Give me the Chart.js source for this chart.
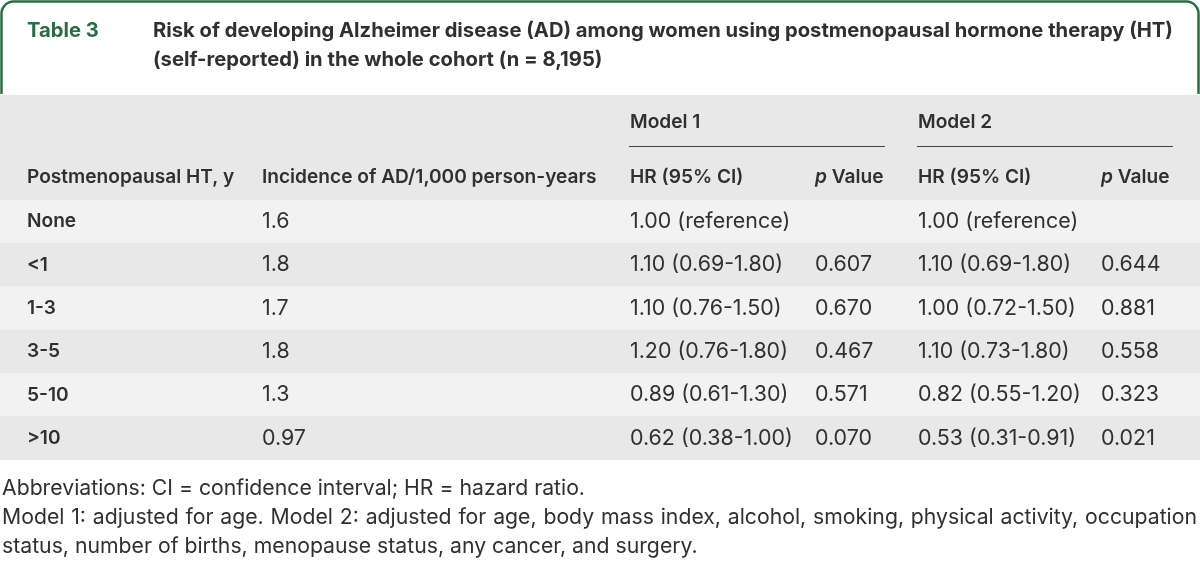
<!DOCTYPE html>
<html>
<head>
<meta charset="utf-8">
<script src="https://cdn.jsdelivr.net/npm/chart.js@4/dist/chart.umd.min.js"></script>
<style>
  html, body { margin: 0; padding: 0; background: #ffffff; }
  #wrap { width: 1200px; height: 562px; }
</style>
</head>
<body>
<div id="wrap"><canvas id="c" width="1200" height="562"></canvas></div>
<script>
// ---------- data ----------
const tableLabel = "Table 3";
const titleLines = [
  "Risk of developing Alzheimer disease (AD) among women using postmenopausal hormone therapy (HT)",
  "(self-reported) in the whole cohort (n = 8,195)"
];
const groupHeaders = ["Model 1", "Model 2"];
const columnHeaders = ["Postmenopausal HT, y", "Incidence of AD/1,000 person-years", "HR (95% CI)", "p Value", "HR (95% CI)", "p Value"];
const hrtYears = ["None", "<1", "1-3", "3-5", "5-10", ">10"];
const incidence = ["1.6", "1.8", "1.7", "1.8", "1.3", "0.97"];
const model1HR = ["1.00 (reference)", "1.10 (0.69-1.80)", "1.10 (0.76-1.50)", "1.20 (0.76-1.80)", "0.89 (0.61-1.30)", "0.62 (0.38-1.00)"];
const model1P = ["", "0.607", "0.670", "0.467", "0.571", "0.070"];
const model2HR = ["1.00 (reference)", "1.10 (0.69-1.80)", "1.00 (0.72-1.50)", "1.10 (0.73-1.80)", "0.82 (0.55-1.20)", "0.53 (0.31-0.91)"];
const model2P = ["", "0.644", "0.881", "0.558", "0.323", "0.021"];
const footnotes = [
  "Abbreviations: CI = confidence interval; HR = hazard ratio.",
  "Model 1: adjusted for age. Model 2: adjusted for age, body mass index, alcohol, smoking, physical activity, occupation",
  "status, number of births, menopause status, any cancer, and surgery."
];

// ---------- layout / style ----------
const FAMILY = "Inter, 'Liberation Sans', Arial, sans-serif";
const colX = [27, 262, 630, 815, 918, 1101];
const TEXT = "#303030";
const GREEN = "#2d6b47";
const BAND = "#e7e8e7";
const LIGHT = "#f2f2f2";

function fitFont(ctx, weight, text, target) {
  ctx.font = weight + " 20px " + FAMILY;
  const w = ctx.measureText(text).width;
  const size = 20 * target / w;
  return weight + " " + size.toFixed(2) + "px " + FAMILY;
}

let F = null;
function fonts(ctx) {
  if (F) return F;
  F = {
    title: fitFont(ctx, "bold", titleLines[0], 1020),
    head: fitFont(ctx, "600", columnHeaders[1], 335),
    headItalic: null,
    body: fitFont(ctx, "normal", model1HR[1], 153),
    note: fitFont(ctx, "normal", footnotes[0], 583)
  };
  F.headItalic = "italic " + F.head;
  return F;
}

const tablePlugin = {
  id: "tablePlugin",
  beforeDraw(chart) {
    const ctx = chart.ctx;
    const f = fonts(ctx);
    ctx.save();
    ctx.fillStyle = "#ffffff";
    ctx.fillRect(0, 0, chart.width, chart.height);
    // header box border
    ctx.strokeStyle = GREEN;
    ctx.lineWidth = 2.5;
    ctx.beginPath();
    ctx.moveTo(1.5, 94);
    ctx.lineTo(1.5, 13);
    ctx.arcTo(1.5, 1.5, 13, 1.5, 12);
    ctx.lineTo(1186, 1.5);
    ctx.arcTo(1198.5, 1.5, 1198.5, 13, 12);
    ctx.lineTo(1198.5, 94);
    ctx.stroke();
    // title
    ctx.textBaseline = "middle";
    ctx.textAlign = "left";
    ctx.fillStyle = GREEN;
    ctx.font = f.title;
    ctx.fillText(tableLabel, 27, 31);
    ctx.fillStyle = TEXT;
    ctx.fillText(titleLines[0], 153, 31);
    ctx.fillText(titleLines[1], 153, 60);
    // header band
    const top = chart.chartArea.top;
    ctx.fillStyle = BAND;
    ctx.fillRect(0, 95, chart.width, top - 95);
    // group headers
    ctx.fillStyle = TEXT;
    ctx.font = f.head;
    ctx.fillText(groupHeaders[0], colX[2], 122);
    ctx.fillText(groupHeaders[1], colX[4], 122);
    ctx.strokeStyle = "#444444";
    ctx.lineWidth = 1.2;
    ctx.beginPath();
    ctx.moveTo(629, 146.5); ctx.lineTo(885, 146.5);
    ctx.moveTo(917, 146.5); ctx.lineTo(1173, 146.5);
    ctx.stroke();
    // column headers
    columnHeaders.forEach((h, i) => {
      if (h.startsWith("p ")) {
        ctx.font = f.headItalic;
        ctx.fillText("p", colX[i], 177);
        ctx.font = f.head;
        const w = ctx.measureText("p ").width;
        ctx.fillText(h.slice(2), colX[i] + w, 177);
      } else {
        ctx.font = f.head;
        ctx.fillText(h, colX[i], 177);
      }
    });
    ctx.restore();
  },
  afterDatasetsDraw(chart) {
    const ctx = chart.ctx;
    const f = fonts(ctx);
    const y = chart.scales.y;
    ctx.save();
    ctx.textBaseline = "middle";
    ctx.textAlign = "left";
    ctx.fillStyle = TEXT;
    hrtYears.forEach((lab, i) => {
      const py = y.getPixelForValue(i);
      ctx.font = f.head;
      ctx.fillText(lab, colX[0], py);
      ctx.font = f.body;
      ctx.fillText(incidence[i], colX[1], py);
      ctx.fillText(model1HR[i], colX[2], py);
      ctx.fillText(model1P[i], colX[3], py);
      ctx.fillText(model2HR[i], colX[4], py);
      ctx.fillText(model2P[i], colX[5], py);
    });
    // footnotes
    ctx.font = f.note;
    const fy = [489, 518, 547];
    ctx.fillText(footnotes[0], 2, fy[0]);
    // justified line
    const words = footnotes[1].split(" ");
    const totalW = words.reduce((s, w) => s + ctx.measureText(w).width, 0);
    const gap = (1197 - 2 - totalW) / (words.length - 1);
    let x = 2;
    words.forEach(w => { ctx.fillText(w, x, fy[1]); x += ctx.measureText(w).width + gap; });
    ctx.fillText(footnotes[2], 2, fy[2]);
    ctx.restore();
  }
};

new Chart(document.getElementById("c"), {
  type: "bar",
  data: {
    labels: hrtYears,
    datasets: [{
      data: hrtYears.map(() => [0, 1]),
      backgroundColor: hrtYears.map((_, i) => i % 2 === 0 ? LIGHT : BAND),
      borderWidth: 0,
      barPercentage: 1,
      categoryPercentage: 1
    }]
  },
  options: {
    indexAxis: "y",
    responsive: false,
    animation: false,
    layout: { padding: { top: 200, bottom: 102, left: 0, right: 0 } },
    plugins: { legend: { display: false }, tooltip: { enabled: false } },
    scales: {
      x: { display: false, min: 0, max: 1 },
      y: { display: false, offset: true }
    }
  },
  plugins: [tablePlugin]
});
</script>
</body>
</html>
